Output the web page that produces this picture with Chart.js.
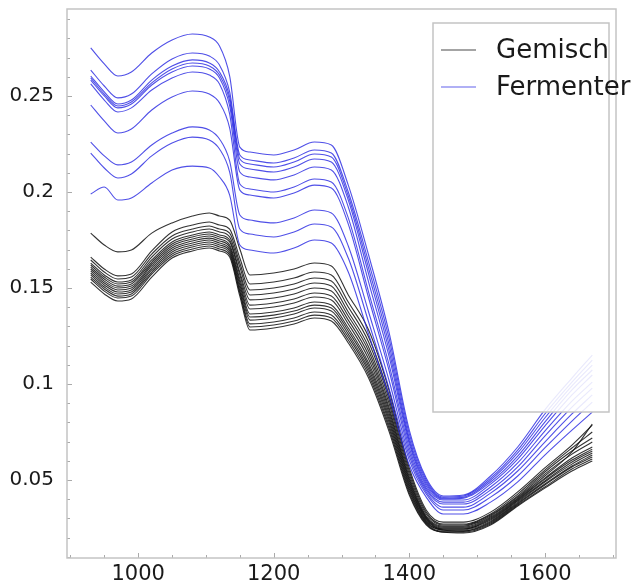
<!DOCTYPE html>
<html>
<head>
<meta charset="utf-8">
<script src="https://cdn.jsdelivr.net/npm/chart.js@4.4.1/dist/chart.umd.min.js"></script>
<style>
    html, body { margin: 0; padding: 0; background: #fff; }
    #wrap { width: 638px; height: 581px; position: relative; }
</style>
</head>
<body>
<div id="wrap"><canvas id="spectraChart"></canvas></div>
<script>
const wavelengths = [930, 950, 970, 990, 1020, 1050, 1080, 1105, 1120, 1135, 1150, 1165, 1200, 1230,
    1260, 1285, 1310, 1340, 1370, 1400, 1425, 1450, 1480, 1520, 1560, 1600, 1640, 1670];

const fermenterSpectra = [
    [0.2750,0.2667,0.2604,0.2625,0.2724,0.2792,0.2823,0.2807,0.2760,0.2604,0.2234,0.2208,0.2193,0.2219,0.2260,0.2245,0.2036,0.1672,0.1271,0.0760,0.0510,0.0417,0.0422,0.0521,0.0672,0.0865,0.1031,0.1151],
    [0.2635,0.2552,0.2490,0.2510,0.2615,0.2693,0.2724,0.2708,0.2661,0.2521,0.2193,0.2167,0.2151,0.2177,0.2219,0.2203,0.2000,0.1635,0.1240,0.0740,0.0500,0.0411,0.0417,0.0510,0.0656,0.0844,0.1010,0.1125],
    [0.2604,0.2521,0.2458,0.2479,0.2583,0.2656,0.2688,0.2672,0.2625,0.2495,0.2172,0.2146,0.2130,0.2156,0.2198,0.2182,0.1979,0.1604,0.1208,0.0719,0.0490,0.0406,0.0411,0.0500,0.0641,0.0823,0.0990,0.1099],
    [0.2594,0.2510,0.2448,0.2469,0.2568,0.2641,0.2672,0.2656,0.2609,0.2474,0.2146,0.2120,0.2104,0.2130,0.2172,0.2156,0.1958,0.1573,0.1177,0.0703,0.0479,0.0401,0.0406,0.0490,0.0625,0.0802,0.0969,0.1073],
    [0.2583,0.2500,0.2438,0.2458,0.2557,0.2625,0.2656,0.2641,0.2594,0.2448,0.2104,0.2078,0.2063,0.2089,0.2130,0.2115,0.1922,0.1531,0.1146,0.0688,0.0469,0.0396,0.0396,0.0479,0.0609,0.0781,0.0943,0.1047],
    [0.2563,0.2479,0.2417,0.2438,0.2531,0.2594,0.2625,0.2609,0.2563,0.2406,0.2042,0.2016,0.2000,0.2026,0.2068,0.2052,0.1865,0.1479,0.1104,0.0667,0.0458,0.0385,0.0385,0.0464,0.0589,0.0755,0.0911,0.1010],
    [0.2453,0.2370,0.2307,0.2328,0.2427,0.2495,0.2526,0.2510,0.2464,0.2333,0.2010,0.1984,0.1969,0.1995,0.2036,0.2021,0.1833,0.1448,0.1073,0.0646,0.0448,0.0375,0.0375,0.0448,0.0568,0.0729,0.0880,0.0979],
    [0.2260,0.2188,0.2141,0.2156,0.2245,0.2307,0.2339,0.2323,0.2276,0.2161,0.1880,0.1854,0.1839,0.1865,0.1906,0.1891,0.1719,0.1375,0.1021,0.0625,0.0438,0.0359,0.0359,0.0432,0.0547,0.0698,0.0844,0.0943],
    [0.2203,0.2125,0.2073,0.2094,0.2188,0.2255,0.2286,0.2271,0.2224,0.2104,0.1807,0.1781,0.1766,0.1792,0.1833,0.1818,0.1656,0.1323,0.0979,0.0604,0.0427,0.0344,0.0344,0.0411,0.0521,0.0667,0.0807,0.0906],
    [0.1990,0.2026,0.1958,0.1969,0.2047,0.2115,0.2135,0.2125,0.2078,0.1984,0.1724,0.1698,0.1682,0.1708,0.1750,0.1734,0.1583,0.1260,0.0938,0.0578,0.0411,0.0323,0.0323,0.0385,0.0490,0.0630,0.0760,0.0854]
];

const gemischSpectra = [
    [0.1786,0.1724,0.1688,0.1698,0.1786,0.1839,0.1875,0.1891,0.1875,0.1854,0.1703,0.1568,0.1578,0.1599,0.1630,0.1615,0.1464,0.1281,0.0969,0.0563,0.0344,0.0281,0.0281,0.0333,0.0438,0.0563,0.0682,0.0786],
    [0.1661,0.1599,0.1563,0.1573,0.1693,0.1792,0.1828,0.1844,0.1828,0.1807,0.1656,0.1521,0.1531,0.1552,0.1583,0.1568,0.1427,0.1245,0.0943,0.0547,0.0333,0.0271,0.0271,0.0323,0.0427,0.0552,0.0667,0.0750],
    [0.1646,0.1583,0.1547,0.1557,0.1677,0.1771,0.1807,0.1823,0.1807,0.1786,0.1630,0.1490,0.1500,0.1521,0.1552,0.1536,0.1401,0.1219,0.0922,0.0531,0.0323,0.0266,0.0266,0.0318,0.0417,0.0542,0.0651,0.0719],
    [0.1630,0.1568,0.1531,0.1542,0.1661,0.1755,0.1792,0.1807,0.1792,0.1766,0.1609,0.1464,0.1474,0.1495,0.1526,0.1510,0.1375,0.1193,0.0901,0.0516,0.0313,0.0260,0.0260,0.0313,0.0411,0.0531,0.0635,0.0698],
    [0.1620,0.1557,0.1521,0.1531,0.1646,0.1740,0.1776,0.1792,0.1776,0.1750,0.1583,0.1438,0.1448,0.1469,0.1500,0.1484,0.1354,0.1172,0.0880,0.0505,0.0307,0.0255,0.0255,0.0307,0.0406,0.0521,0.0646,0.0792],
    [0.1609,0.1547,0.1510,0.1521,0.1635,0.1729,0.1766,0.1781,0.1766,0.1740,0.1568,0.1411,0.1422,0.1443,0.1474,0.1458,0.1333,0.1151,0.0865,0.0495,0.0302,0.0250,0.0250,0.0302,0.0401,0.0510,0.0615,0.0672],
    [0.1599,0.1536,0.1500,0.1510,0.1625,0.1719,0.1755,0.1771,0.1755,0.1724,0.1547,0.1391,0.1401,0.1422,0.1453,0.1438,0.1313,0.1130,0.0849,0.0484,0.0297,0.0245,0.0245,0.0297,0.0396,0.0505,0.0604,0.0661],
    [0.1589,0.1526,0.1490,0.1500,0.1615,0.1708,0.1745,0.1760,0.1745,0.1714,0.1531,0.1365,0.1375,0.1396,0.1427,0.1411,0.1292,0.1109,0.0833,0.0474,0.0292,0.0245,0.0245,0.0292,0.0391,0.0495,0.0594,0.0651],
    [0.1578,0.1516,0.1479,0.1490,0.1604,0.1698,0.1734,0.1750,0.1734,0.1703,0.1516,0.1349,0.1359,0.1380,0.1411,0.1396,0.1276,0.1094,0.0818,0.0464,0.0286,0.0240,0.0240,0.0286,0.0385,0.0490,0.0583,0.0641],
    [0.1568,0.1505,0.1469,0.1479,0.1594,0.1688,0.1724,0.1740,0.1724,0.1693,0.1500,0.1333,0.1344,0.1365,0.1396,0.1380,0.1260,0.1078,0.0802,0.0453,0.0281,0.0240,0.0234,0.0281,0.0380,0.0479,0.0573,0.0630],
    [0.1557,0.1495,0.1458,0.1469,0.1583,0.1677,0.1714,0.1729,0.1714,0.1682,0.1484,0.1313,0.1323,0.1344,0.1375,0.1359,0.1245,0.1063,0.0786,0.0443,0.0276,0.0234,0.0234,0.0276,0.0375,0.0474,0.0568,0.0620],
    [0.1547,0.1484,0.1448,0.1458,0.1573,0.1667,0.1703,0.1719,0.1703,0.1672,0.1474,0.1297,0.1307,0.1328,0.1359,0.1344,0.1229,0.1047,0.0771,0.0432,0.0271,0.0229,0.0229,0.0271,0.0370,0.0464,0.0557,0.0609],
    [0.1531,0.1469,0.1432,0.1443,0.1557,0.1656,0.1693,0.1708,0.1693,0.1661,0.1458,0.1281,0.1292,0.1313,0.1344,0.1328,0.1214,0.1031,0.0755,0.0422,0.0266,0.0229,0.0224,0.0266,0.0365,0.0458,0.0547,0.0599]
];

const legendLabels = ['Gemisch', 'Fermenter'];
const xTickLabels = [1000, 1200, 1400, 1600];
const yTickLabels = [0.05, 0.1, 0.15, 0.2, 0.25];

const gemischColor = 'rgba(15,15,15,0.85)';
const fermenterColor = 'rgba(35,35,225,0.8)';
const frameColor = '#c4c4c4';
const fontName = "'DejaVu Sans', sans-serif";

function toPoints(values) {
    return values.map((v, i) => ({ x: wavelengths[i], y: v }));
}

function lineSet(label, values, color) {
    return {
        label: label,
        data: toPoints(values),
        borderColor: color,
        borderWidth: 1.1,
        pointRadius: 0,
        fill: false,
        cubicInterpolationMode: 'monotone'
    };
}

// blue ones first so they are painted on top
const datasets = [];
fermenterSpectra.forEach(s => datasets.push(lineSet('Fermenter', s, fermenterColor)));
gemischSpectra.forEach(s => datasets.push(lineSet('Gemisch', s, gemischColor)));

// frame, inner ticks and the boxed legend
const framePlugin = {
    id: 'frame',
    afterDatasetsDraw(chart) {
        const { ctx, chartArea: a, scales } = chart;
        ctx.save();
        ctx.strokeStyle = '#aaa';
        ctx.lineWidth = 1;
        scales.x.ticks.forEach(t => {
            const px = Math.round(scales.x.getPixelForValue(t.value)) + 0.5;
            const len = xTickLabels.includes(t.value) ? 5 : 3;
            ctx.beginPath();
            ctx.moveTo(px, a.bottom);
            ctx.lineTo(px, a.bottom - len);
            ctx.stroke();
        });
        scales.y.ticks.forEach(t => {
            const py = Math.round(scales.y.getPixelForValue(t.value)) + 0.5;
            const len = yTickLabels.some(l => Math.abs(l - t.value) < 1e-9) ? 5 : 3;
            ctx.beginPath();
            ctx.moveTo(a.left, py);
            ctx.lineTo(a.left + len, py);
            ctx.stroke();
        });

        ctx.strokeStyle = frameColor;
        ctx.lineWidth = 1.5;
        ctx.strokeRect(a.left, a.top, a.right - a.left, a.bottom - a.top);

        // legend
        const box = { x: 433, y: 23, w: 176, h: 389 };
        ctx.fillStyle = 'rgba(255,255,255,0.88)';
        ctx.fillRect(box.x, box.y, box.w, box.h);
        ctx.strokeStyle = frameColor;
        ctx.lineWidth = 1.5;
        ctx.strokeRect(box.x, box.y, box.w, box.h);

        const colors = [gemischColor, fermenterColor];
        const rows = [50, 87];
        ctx.font = '26px ' + fontName;
        ctx.textBaseline = 'middle';
        legendLabels.forEach((text, i) => {
            ctx.strokeStyle = colors[i];
            ctx.globalAlpha = 0.6;
            ctx.lineWidth = 1.3;
            ctx.beginPath();
            ctx.moveTo(441, rows[i]);
            ctx.lineTo(476, rows[i]);
            ctx.stroke();
            ctx.globalAlpha = 1;
            ctx.fillStyle = '#1a1a1a';
            ctx.fillText(text, 496, rows[i] + 1);
        });
        ctx.restore();
    }
};

const ctx = document.getElementById('spectraChart').getContext('2d');
new Chart(ctx, {
    type: 'line',
    data: { datasets: datasets },
    options: {
        responsive: true,
        maintainAspectRatio: false,
        animation: false,
        layout: { padding: { top: 9, right: 22, left: 0, bottom: 0 } },
        plugins: {
            legend: { display: false },
            tooltip: { enabled: false }
        },
        scales: {
            x: {
                type: 'linear',
                min: 895,
                max: 1705,
                afterBuildTicks: scale => {
                    const t = [];
                    for (let v = 900; v <= 1700; v += 50) t.push({ value: v });
                    scale.ticks = t;
                },
                afterFit: scale => {
                    scale.height = 23;
                    scale.paddingLeft = 0;
                    scale.paddingRight = 0;
                },
                grid: { display: false },
                border: { display: false },
                ticks: {
                    autoSkip: false,
                    maxRotation: 0,
                    padding: -4,
                    color: '#1a1a1a',
                    font: { family: fontName, size: 21 },
                    callback: v => xTickLabels.includes(v) ? String(v) : ''
                }
            },
            y: {
                min: 0.0094,
                max: 0.2953,
                afterBuildTicks: scale => {
                    const t = [];
                    for (let i = 1; i <= 29; i++) t.push({ value: i / 100 });
                    scale.ticks = t;
                },
                afterFit: scale => {
                    scale.width = 67;
                    scale.paddingTop = 0;
                    scale.paddingBottom = 0;
                },
                grid: { display: false },
                border: { display: false },
                ticks: {
                    autoSkip: false,
                    padding: 5,
                    color: '#1a1a1a',
                    font: { family: fontName, size: 20 },
                    callback: v => yTickLabels.some(l => Math.abs(l - v) < 1e-9) ? String(+v.toFixed(2)) : ''
                }
            }
        }
    },
    plugins: [framePlugin]
});
</script>
</body>
</html>
